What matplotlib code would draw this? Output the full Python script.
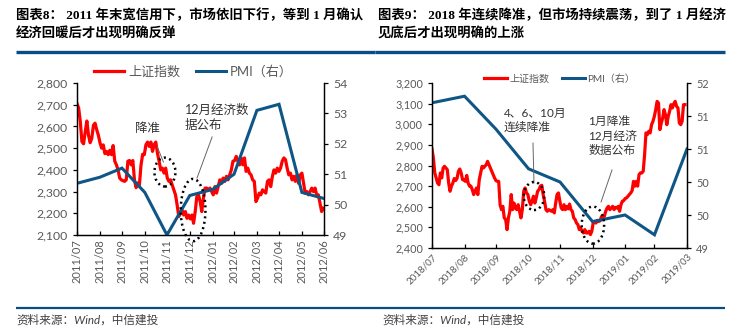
import math
import numpy as np
import pandas as pd
import matplotlib
matplotlib.use("Agg")
import matplotlib.pyplot as plt
import matplotlib.dates as mdates
from matplotlib.lines import Line2D
from matplotlib.patches import Ellipse
from matplotlib.ticker import FuncFormatter, MultipleLocator

# ---------------- data ----------------
# Panel 1: 2011/07 - 2012/06
sse_2011 = [2705, 2685, 2623, 2530, 2520, 2575, 2625, 2560, 2525, 2545, 2605, 2615, 2585, 2560, 2525,
            2500, 2515, 2475, 2485, 2470, 2490, 2470, 2512, 2440, 2423, 2400, 2362, 2354, 2350, 2347,
            2354, 2440, 2443, 2423, 2443, 2354, 2318, 2340, 2330, 2423, 2472, 2470, 2516, 2528, 2508,
            2528, 2485, 2516, 2528, 2477, 2440, 2400, 2408, 2385, 2408, 2362, 2347, 2354, 2330, 2308,
            2285, 2238, 2185, 2200, 2215, 2192, 2208, 2177, 2192, 2174, 2192, 2154, 2208, 2277, 2285,
            2254, 2208, 2270, 2316, 2316, 2308, 2316, 2300, 2285, 2323, 2293, 2323, 2354, 2338, 2362,
            2347, 2370, 2354, 2377, 2400, 2440, 2443, 2462, 2440, 2423, 2455, 2423, 2455, 2393, 2408,
            2385, 2377, 2354, 2347, 2254, 2270, 2293, 2285, 2308, 2300, 2293, 2347, 2354, 2323, 2370,
            2400, 2385, 2408, 2393, 2408, 2440, 2455, 2447, 2408, 2377, 2385, 2354, 2370, 2347, 2377,
            2338, 2377, 2385, 2338, 2293, 2300, 2285, 2300, 2316, 2300, 2316, 2285, 2285, 2246, 2208,
            2223]
sse_2011_start = "2011-07-31"
sse_2011_end = "2012-06-29"
pmi_2011_months = pd.date_range("2011-07-31", "2012-06-30", freq="ME")
pmi_2011 = [50.7, 50.9, 51.2, 50.4, 49.0, 50.3, 50.5, 51.0, 53.1, 53.3, 50.4, 50.2]

# Panel 2: 2018/07 - 2019/03
sse_2018 = [2880, 2836, 2764, 2740, 2715, 2707, 2764, 2740, 2788, 2796, 2788, 2780, 2715, 2675, 2700,
            2715, 2737, 2727, 2737, 2772, 2783, 2764, 2731, 2731, 2723, 2752, 2715, 2700, 2700, 2683,
            2659, 2675, 2691, 2659, 2731, 2764, 2796, 2788, 2796, 2804, 2820, 2804, 2788, 2772, 2756,
            2740, 2727, 2723, 2723, 2610, 2586, 2602, 2546, 2538, 2489, 2546, 2578, 2659, 2586, 2618,
            2594, 2586, 2610, 2578, 2546, 2586, 2675, 2691, 2667, 2659, 2627, 2610, 2627, 2651, 2618,
            2643, 2675, 2683, 2700, 2704, 2659, 2627, 2586, 2578, 2586, 2582, 2578, 2586, 2570, 2618,
            2659, 2667, 2627, 2594, 2586, 2610, 2586, 2602, 2590, 2613, 2586, 2578, 2546, 2538, 2521,
            2513, 2489, 2497, 2481, 2473, 2489, 2473, 2473, 2481, 2465, 2481, 2521, 2529, 2521, 2534,
            2529, 2532, 2553, 2546, 2553, 2578, 2594, 2602, 2586, 2594, 2602, 2586, 2597, 2594, 2602,
            2578, 2610, 2627, 2630, 2640, 2643, 2651, 2659, 2667, 2678, 2723, 2700, 2723, 2700, 2756,
            2764, 2764, 2772, 2853, 2958, 2950, 2966, 2958, 2998, 3014, 3038, 3071, 3111, 3103, 2974,
            3006, 3030, 3071, 3046, 2998, 3038, 3063, 3095, 3079, 3099, 3111, 3087, 3079, 3006, 2998,
            3014, 3095, 3095]
sse_2018_start = "2018-07-31"
sse_2018_end = "2019-03-29"
pmi_2018_months = pd.date_range("2018-07-31", "2019-03-31", freq="ME")
pmi_2018 = [51.2, 51.3, 50.8, 50.2, 50.0, 49.4, 49.5, 49.2, 50.5]

title1 = ["图表8： 2011 年末宽信用下，市场依旧下行，等到 1 月确认", "经济回暖后才出现明确反弹"]
title2 = ["图表9： 2018 年连续降准，但市场持续震荡，到了 1 月经济", "见底后才出现明确的上涨"]
source = "资料来源：Wind，中信建投"
legend_labels = ["上证指数", "PMI（右）"]

# ---------------- style ----------------
W, H = 751, 332
RED = "#FF0000"
BLUE = "#0E5685"
RULE = "#0B4C84"
GRAY = "#595959"
CJK = ["Lato", "Noto Sans CJK SC"]
TITLEF = ["Liberation Serif", "Noto Sans CJK SC"]

fig = plt.figure(figsize=(W / 100, H / 100), dpi=100)
fig.patch.set_facecolor("white")


def fx(x):
    return x / W


def fy(y):
    return 1 - y / H


def hline(x0, x1, y, lw):
    fig.add_artist(Line2D([fx(x0), fx(x1)], [fy(y), fy(y)], transform=fig.transFigure,
                          color=RULE, lw=lw, solid_capstyle="butt"))


# titles and rules
for lines, x0 in ((title1, 16), (title2, 378)):
    fig.text(fx(x0), fy(15), lines[0], family=TITLEF, weight="bold", fontsize=9.6,
             va="center", ha="left", color="black")
    fig.text(fx(x0), fy(34), lines[1], family=TITLEF, weight="bold", fontsize=9.6,
             va="center", ha="left", color="black")
hline(16, 375, 52, 2.4)
hline(375, 725, 52, 2.4)
hline(16, 375, 308, 1.6)
hline(375, 725, 308, 1.6)
fig.text(fx(16), fy(320), source, family=CJK, fontsize=8.4, style="italic", va="center", color="#404040")
fig.text(fx(382), fy(320), source, family=CJK, fontsize=8.4, style="italic", va="center", color="#404040")


def make_panel(rect, sse, start, end, pmi_dates, pmi, ylim, yr, yr_step, xlim,
               tick_fs, rot, leg_anchor, leg_fs):
    ax = fig.add_axes([fx(rect[0]), fy(rect[3]), fx(rect[2] - rect[0]), (rect[3] - rect[1]) / H])
    ax2 = ax.twinx()
    dates = pd.date_range(start, end, periods=len(sse))
    l1, = ax.plot(dates, sse, color=RED, lw=2.3, solid_joinstyle="round")
    l2, = ax2.plot(pmi_dates, pmi, color=BLUE, lw=2.2, solid_joinstyle="miter")
    ax.set_zorder(1)
    ax2.set_zorder(2)
    ax.set_ylim(*ylim)
    ax.yaxis.set_major_locator(MultipleLocator(100))
    ax.yaxis.set_major_formatter(FuncFormatter(lambda v, p: f"{v:,.0f}"))
    ax2.set_ylim(*yr)
    ax2.yaxis.set_major_locator(MultipleLocator(yr_step))
    ax2.yaxis.set_major_formatter(FuncFormatter(lambda v, p: f"{math.floor(v + 0.5 + 1e-9):d}"))
    ax.set_xlim(pd.Timestamp(xlim[0]), pd.Timestamp(xlim[1]))
    ticks = pd.date_range(xlim[0], xlim[1], freq="ME")
    ax.set_xticks(ticks)
    ax.xaxis.set_major_formatter(mdates.DateFormatter("%Y/%m"))
    for a in (ax, ax2):
        a.spines["top"].set_visible(False)
        for s in ("left", "right", "bottom"):
            a.spines[s].set_color("black")
            a.spines[s].set_linewidth(0.9)
        a.set_facecolor("none")
    ax.tick_params(axis="x", direction="in", length=3, width=0.9, colors="black",
                   labelcolor=GRAY, labelsize=tick_fs, pad=3)
    ax.tick_params(axis="y", direction="out", length=3, width=0.9, colors="black",
                   labelcolor=GRAY, labelsize=tick_fs + 0.8)
    ax2.tick_params(axis="y", direction="out", length=3, width=0.9, colors="black",
                    labelcolor=GRAY, labelsize=tick_fs + 0.8)
    for lab in ax.get_xticklabels() + ax.get_yticklabels() + ax2.get_yticklabels():
        lab.set_family("Lato")
    if rot == 90:
        for lab in ax.get_xticklabels():
            lab.set_rotation(90)
            lab.set_ha("center")
    else:
        for lab in ax.get_xticklabels():
            lab.set_rotation(45)
            lab.set_ha("right")
            lab.set_rotation_mode("anchor")
    leg = ax2.legend([l1, l2], legend_labels, loc="center", bbox_to_anchor=leg_anchor,
                     ncol=2, frameon=False, handlelength=2.3, columnspacing=1.2,
                     handletextpad=0.3, prop={"family": CJK, "size": leg_fs})
    for t in leg.get_texts():
        t.set_color(GRAY)
    return ax2


def annot(ax, text, xy, fs, ls=1.35):
    ax.text(xy[0], xy[1], text, transform=ax.transAxes, ha="left", va="top",
            family=CJK, fontsize=fs, color="#333333", linespacing=ls, zorder=5)


def ell(ax, c, w, h):
    ax.add_patch(Ellipse(c, w, h, transform=ax.transAxes, fill=False, ec="black",
                         lw=1.8, ls=(0, (0.8, 1.4)), clip_on=False, zorder=6))


def seg(ax, p0, p1):
    ax.add_line(Line2D([p0[0], p1[0]], [p0[1], p1[1]], transform=ax.transAxes,
                       color="#666666", lw=0.7, clip_on=False, zorder=6))


# left panel
a1 = make_panel((77, 83, 324, 235), sse_2011, sse_2011_start, sse_2011_end,
                pmi_2011_months, pmi_2011, (2100, 2800), (49, 54), 1,
                ("2011-07-31", "2012-06-30"), 8, 90, (0.47, 1.075), 9.4)
annot(a1, "降准", (0.235, 0.745), 9)
seg(a1, (0.325, 0.58), (0.35, 0.48))
ell(a1, (0.356, 0.414), 0.085, 0.19)
annot(a1, "12月经济数\n据公布", (0.437, 0.86), 9, 1.25)
seg(a1, (0.547, 0.645), (0.486, 0.375))
ell(a1, (0.47, 0.164), 0.10, 0.41)

# right panel
a2 = make_panel((432, 83, 687, 248), sse_2018, sse_2018_start, sse_2018_end,
                pmi_2018_months, pmi_2018, (2400, 3200), (49, 51.5), 0.5,
                ("2018-07-31", "2019-03-31"), 7, 45, (0.5, 1.025), 7.2)
annot(a2, "4、6、10月\n连续降准", (0.282, 0.85), 8.5, 1.3)
seg(a2, (0.396, 0.636), (0.40, 0.394))
ell(a2, (0.40, 0.315), 0.08, 0.17)
annot(a2, "1月降准\n12月经济\n数据公布", (0.612, 0.80), 8.5, 1.35)
seg(a2, (0.706, 0.473), (0.663, 0.279))
ell(a2, (0.631, 0.139), 0.088, 0.225)

fig.savefig("out.png", dpi=100, facecolor="white")
